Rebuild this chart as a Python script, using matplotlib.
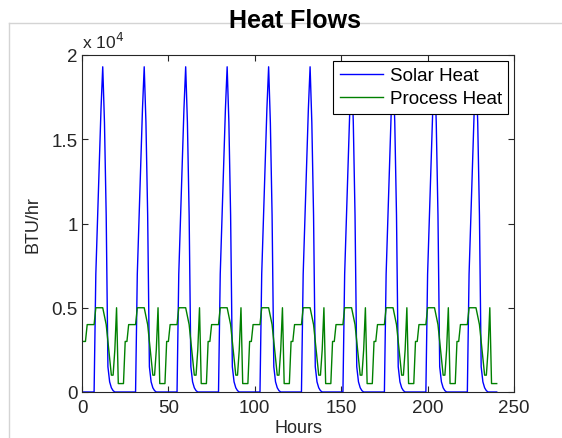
import matplotlib
matplotlib.use('Agg')
import matplotlib.pyplot as plt
from matplotlib.lines import Line2D
from matplotlib.ticker import FuncFormatter

plt.rcParams['font.family'] = ['Liberation Sans', 'DejaVu Sans']

# 每小时的数据, 10天, 每天24个值
solar_days = [
    [0, 0, 0, 0, 0, 0, 0, 7000, 10300, 13500, 16800, 19300, 16000, 10500, 1500, 600, 250, 80, 0, 0, 0, 0, 0, 0],
    [0, 0, 0, 0, 0, 0, 0, 7000, 10300, 13500, 16800, 19300, 16000, 10500, 1500, 600, 250, 80, 0, 0, 0, 0, 0, 0],
    [0, 0, 0, 0, 0, 0, 0, 7000, 10300, 13500, 16800, 19300, 16000, 10500, 1500, 600, 250, 80, 0, 0, 0, 0, 0, 0],
    [0, 0, 0, 0, 0, 0, 0, 7000, 10300, 13500, 16800, 19300, 16000, 10500, 1500, 600, 250, 80, 0, 0, 0, 0, 0, 0],
    [0, 0, 0, 0, 0, 0, 0, 7000, 10300, 13500, 16800, 19300, 16000, 10500, 1500, 600, 250, 80, 0, 0, 0, 0, 0, 0],
    [0, 0, 0, 0, 0, 0, 0, 7000, 10300, 13500, 16800, 19300, 16000, 10500, 1500, 600, 250, 80, 0, 0, 0, 0, 0, 0],
    [0, 0, 0, 0, 0, 0, 0, 7000, 10300, 13500, 16800, 19300, 16000, 10500, 1500, 600, 250, 80, 0, 0, 0, 0, 0, 0],
    [0, 0, 0, 0, 0, 0, 0, 7000, 10300, 13500, 16800, 19300, 16000, 10500, 1500, 600, 250, 80, 0, 0, 0, 0, 0, 0],
    [0, 0, 0, 0, 0, 0, 0, 7000, 10300, 13500, 16800, 19300, 16000, 10500, 1500, 600, 250, 80, 0, 0, 0, 0, 0, 0],
    [0, 0, 0, 0, 0, 0, 0, 7000, 10300, 13500, 16800, 19300, 16000, 10500, 1500, 600, 250, 80, 0, 0, 0, 0, 0, 0],
]
process_days = [
    [3000, 3000, 4000, 4000, 4000, 4000, 4000, 5000, 5000, 5000, 5000, 5000, 4500, 4000, 3000, 2000, 1000, 1000, 2500, 5000, 500, 500, 500, 500],
    [3000, 3000, 4000, 4000, 4000, 4000, 4000, 5000, 5000, 5000, 5000, 5000, 4500, 4000, 3000, 2000, 1000, 1000, 2500, 5000, 500, 500, 500, 500],
    [3000, 3000, 4000, 4000, 4000, 4000, 4000, 5000, 5000, 5000, 5000, 5000, 4500, 4000, 3000, 2000, 1000, 1000, 2500, 5000, 500, 500, 500, 500],
    [3000, 3000, 4000, 4000, 4000, 4000, 4000, 5000, 5000, 5000, 5000, 5000, 4500, 4000, 3000, 2000, 1000, 1000, 2500, 5000, 500, 500, 500, 500],
    [3000, 3000, 4000, 4000, 4000, 4000, 4000, 5000, 5000, 5000, 5000, 5000, 4500, 4000, 3000, 2000, 1000, 1000, 2500, 5000, 500, 500, 500, 500],
    [3000, 3000, 4000, 4000, 4000, 4000, 4000, 5000, 5000, 5000, 5000, 5000, 4500, 4000, 3000, 2000, 1000, 1000, 2500, 5000, 500, 500, 500, 500],
    [3000, 3000, 4000, 4000, 4000, 4000, 4000, 5000, 5000, 5000, 5000, 5000, 4500, 4000, 3000, 2000, 1000, 1000, 2500, 5000, 500, 500, 500, 500],
    [3000, 3000, 4000, 4000, 4000, 4000, 4000, 5000, 5000, 5000, 5000, 5000, 4500, 4000, 3000, 2000, 1000, 1000, 2500, 5000, 500, 500, 500, 500],
    [3000, 3000, 4000, 4000, 4000, 4000, 4000, 5000, 5000, 5000, 5000, 5000, 4500, 4000, 3000, 2000, 1000, 1000, 2500, 5000, 500, 500, 500, 500],
    [3000, 3000, 4000, 4000, 4000, 4000, 4000, 5000, 5000, 5000, 5000, 5000, 4500, 4000, 3000, 2000, 1000, 1000, 2500, 5000, 500, 500, 500, 500],
]
solar_heat = [v for day in solar_days for v in day]
process_heat = [v for day in process_days for v in day]
hours = list(range(1, len(solar_heat) + 1))

x_ticks = [0, 50, 100, 150, 200, 250]
y_ticks = [0, 5000, 10000, 15000, 20000]

fig = plt.figure(figsize=(5.62, 4.39), dpi=100)
ax = fig.add_axes([82 / 562, 1 - 393 / 439, 432 / 562, 337 / 439])

# 灰色的窗口边框
fig.add_artist(Line2D([9 / 562, 1], [1 - 24 / 439, 1 - 24 / 439], color='#d4d4d4', lw=1))
fig.add_artist(Line2D([9 / 562, 9 / 562], [0, 1 - 24 / 439], color='#d4d4d4', lw=1))

ax.plot(hours, solar_heat, color='#0000ff', lw=1.0, label='Solar Heat')
ax.plot(hours, process_heat, color='#008000', lw=1.0, label='Process Heat')

ax.set_xlim(0, 250)
ax.set_ylim(0, 20000)
ax.set_xticks(x_ticks)
ax.set_yticks(y_ticks)
ax.yaxis.set_major_formatter(FuncFormatter(lambda v, p: '%g' % (v / 1e4)))
ax.tick_params(direction='in', length=4, width=0.8, top=True, right=True,
               labelsize=13.5, colors='#262626', pad=3)
ax.tick_params(axis='x', pad=5)
for s in ax.spines.values():
    s.set_color('#262626')
    s.set_linewidth(0.8)

ax.text(0, 1.012, 'x 10$^4$', transform=ax.transAxes, fontsize=12.5, color='#262626',
        ha='left', va='bottom')

ax.set_xlabel('Hours', fontsize=13, color='#262626', labelpad=2)
ax.set_ylabel('BTU/hr', fontsize=13, color='#262626', labelpad=7)
fig.text(0.525, 1 - 21 / 439, 'Heat Flows', fontsize=18, fontweight='bold',
         ha='center', va='center', color='black')

leg = ax.legend(loc='upper right', fontsize=13.5, handlelength=2.3, handletextpad=0.35,
                borderpad=0.35, labelspacing=0.3, fancybox=False, framealpha=1,
                borderaxespad=0.3)
leg.get_frame().set_edgecolor('black')
leg.get_frame().set_linewidth(0.8)

fig.savefig('out.png', dpi=100)
